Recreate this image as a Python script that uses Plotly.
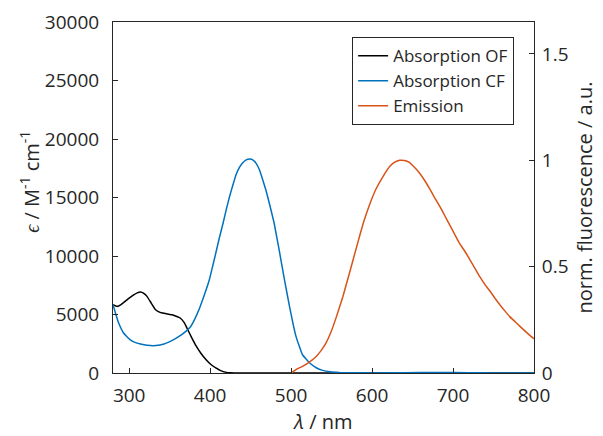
import plotly.graph_objects as go

# Absorption OF (open form), epsilon in M^-1 cm^-1
wl_of = [280, 285, 290, 295, 300, 306, 310, 314, 318, 322, 327, 332, 336, 341, 347, 353, 358, 363, 368, 372, 377, 383, 389, 395, 401, 407, 413, 420, 425, 430, 450, 500, 600, 700, 800]
eps_of = [5840, 5690, 5850, 6120, 6400, 6690, 6850, 6920, 6800, 6550, 6000, 5450, 5250, 5130, 5050, 4980, 4850, 4700, 4300, 3750, 3050, 2275, 1650, 1140, 730, 430, 200, 55, 15, 0, 0, 0, 0, 0, 0]

# Absorption CF (closed form)
wl_cf = [280, 283, 287, 293, 301, 307, 314, 322, 330, 336, 343, 349, 355, 361, 368, 376, 381, 387, 393, 399, 403, 407, 411, 416, 420, 424, 428, 432, 436, 440, 444, 449, 453, 457, 461, 465, 469, 473, 479, 485, 492, 498, 506, 514, 523, 531, 539, 548, 560, 580, 600, 640, 680, 720, 750, 800]
eps_cf = [5840, 5130, 4270, 3420, 2850, 2620, 2480, 2370, 2330, 2370, 2480, 2640, 2850, 3100, 3450, 3980, 4600, 5550, 6700, 7970, 9100, 10260, 11450, 12820, 14000, 15090, 16050, 16950, 17550, 17950, 18200, 18290, 18200, 17900, 17350, 16500, 15600, 14530, 12820, 10600, 7900, 5690, 3130, 1560, 855, 450, 222, 100, 40, 15, 10, 30, 50, 30, 10, 0]

# Emission (normalized)
wl_em = [500, 507, 514, 522, 531, 537, 543, 549, 556, 564, 572, 581, 589, 597, 605, 614, 622, 628, 634, 640, 646, 652, 659, 665, 671, 677, 684, 690, 696, 702, 708, 715, 721, 727, 733, 739, 746, 752, 758, 764, 770, 777, 783, 791, 799, 800]
em = [0.0, 0.018, 0.031, 0.05, 0.078, 0.105, 0.14, 0.19, 0.265, 0.36, 0.469, 0.594, 0.703, 0.792, 0.866, 0.927, 0.972, 0.991, 1.0, 0.999, 0.99, 0.968, 0.938, 0.905, 0.867, 0.826, 0.781, 0.738, 0.695, 0.652, 0.609, 0.57, 0.531, 0.492, 0.453, 0.418, 0.383, 0.35, 0.32, 0.292, 0.265, 0.24, 0.218, 0.19, 0.164, 0.162]

x_ticks = [300, 400, 500, 600, 700, 800]
y_ticks = [0, 5000, 10000, 15000, 20000, 25000, 30000]
y2_ticks = [0, 0.5, 1, 1.5]

FONT = "Open Sans"
AX = "#262626"

fig = go.Figure()
fig.add_trace(go.Scatter(x=wl_of, y=eps_of, mode="lines", name="Absorption OF",
                         line=dict(color="#000000", width=1.5, shape="spline", smoothing=0.3)))
fig.add_trace(go.Scatter(x=wl_cf, y=eps_cf, mode="lines", name="Absorption CF",
                         line=dict(color="#0072BD", width=1.5, shape="spline", smoothing=0.3)))
fig.add_trace(go.Scatter(x=wl_em, y=em, mode="lines", name="Emission", yaxis="y2",
                         line=dict(color="#D95319", width=1.5, shape="spline", smoothing=0.3)))

fig.add_annotation(text="<i>ϵ</i> / M<sup>-1</sup> cm<sup>-1</sup>", xref="paper", yref="paper",
                   x=-0.197, y=0.545, xanchor="center", yanchor="middle", textangle=-90,
                   showarrow=False, font=dict(size=20, family=FONT, color=AX))

fig.update_layout(
    width=603, height=436,
    margin=dict(l=105, r=77, t=14, b=71, autoexpand=False),
    paper_bgcolor="white", plot_bgcolor="white",
    font=dict(family=FONT, size=19, color=AX),
    xaxis=dict(range=[280, 800], tickvals=x_ticks, ticktext=[str(v) for v in x_ticks],
               ticks="inside", ticklen=5, tickcolor=AX, automargin=False, ticklabelstandoff=5,
               showline=True, linecolor=AX, linewidth=1, mirror=True, showgrid=False, zeroline=False,
               title=dict(text="<i>λ</i> / nm", font=dict(size=20), standoff=7)),
    yaxis=dict(range=[0, 30000], tickvals=y_ticks, ticktext=[str(v) for v in y_ticks],
               ticks="inside", ticklen=5, tickcolor=AX, automargin=False, ticklabelstandoff=9,
               showline=True, linecolor=AX, linewidth=1, showgrid=False, zeroline=False),
    yaxis2=dict(range=[0, 1.65], tickvals=y2_ticks, ticktext=["0", "0.5", "1", "1.5"], overlaying="y", side="right",
                ticks="inside", ticklen=5, tickcolor=AX, automargin=False, ticklabelstandoff=3,
                showline=True, linecolor=AX, linewidth=1, showgrid=False, zeroline=False,
                title=dict(text="norm. fluorescence / a.u.", font=dict(size=20), standoff=10)),
    legend=dict(x=0.568, y=0.957, xanchor="left", yanchor="top", bgcolor="white",
                bordercolor=AX, borderwidth=1, font=dict(size=17), tracegroupgap=0,
                itemwidth=30),
    showlegend=True,
)

fig.write_html("out.html")
